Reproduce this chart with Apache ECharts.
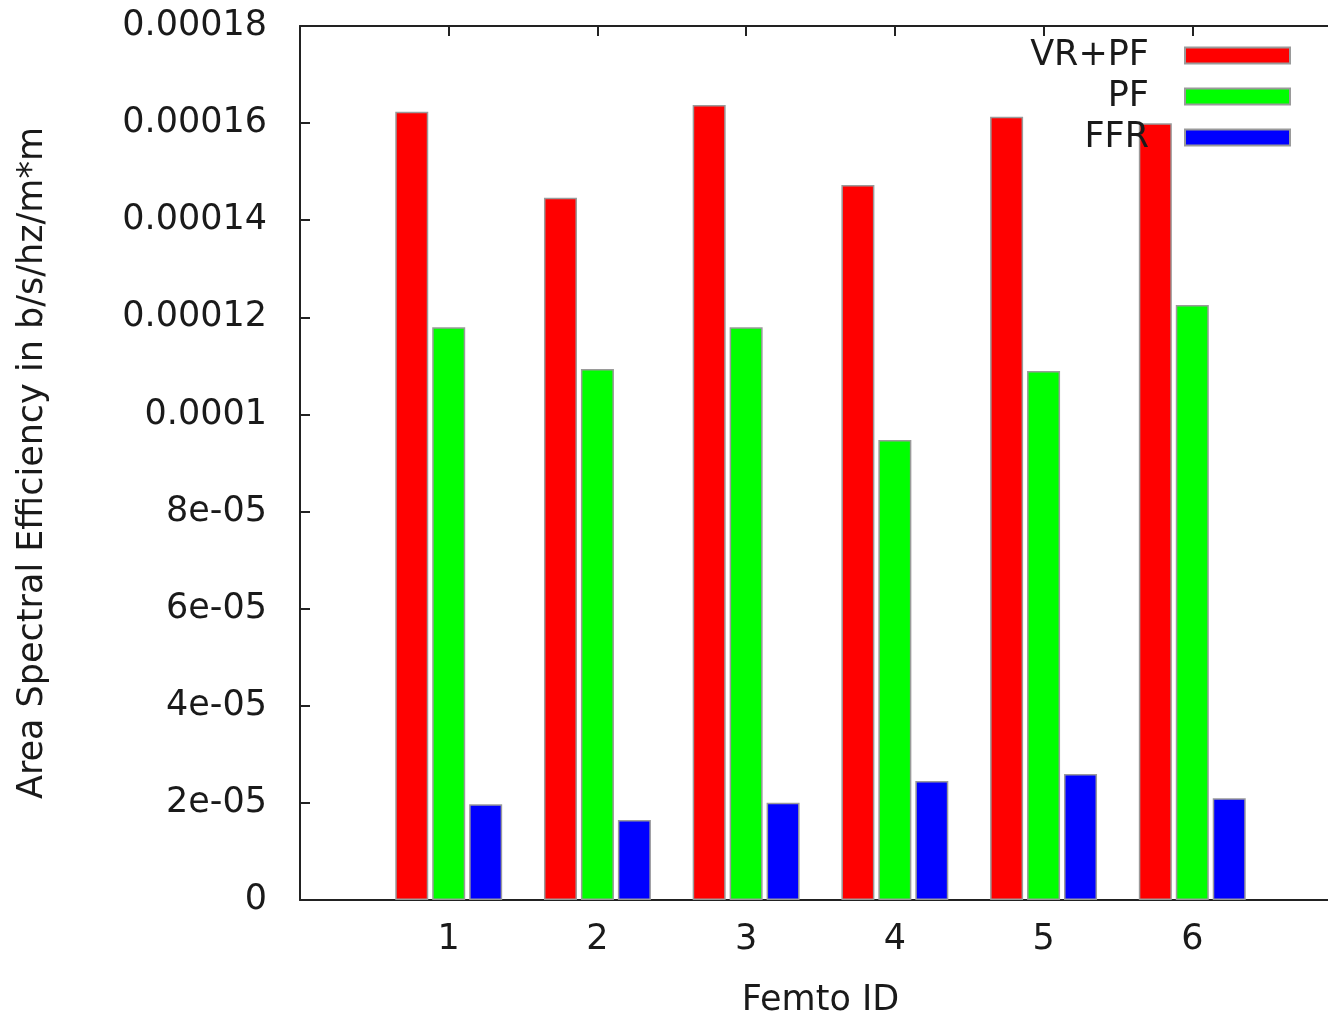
<!DOCTYPE html>
<html>
<head>
<meta charset="utf-8">
<title>Area Spectral Efficiency per Femto</title>
<script src="https://cdn.jsdelivr.net/npm/echarts@6/dist/echarts.min.js"></script>
<style>
  html, body { margin: 0; padding: 0; background: #ffffff; overflow: hidden; }
  /* the plot frame runs slightly past the right edge of the window */
  #chart { width: 1341px; height: 1017px; }
</style>
</head>
<body>
<div id="chart"></div>
<script>
// Femto cells on the x axis
var femtoIds = ['1', '2', '3', '4', '5', '6'];

// Area spectral efficiency (b/s/hz/m*m) per scheme
var vrPf = [1.6235e-4, 1.4464e-4, 1.6373e-4, 1.4725e-4, 1.6132e-4, 1.5996e-4];
var pf   = [1.1794e-4, 1.0936e-4, 1.1794e-4, 9.474e-5, 1.0895e-4, 1.2254e-4];
var ffr  = [1.971e-5, 1.648e-5, 2.004e-5, 2.451e-5, 2.595e-5, 2.094e-5];

var seriesNames = ['VR+PF', 'PF', 'FFR'];

// y tick labels written the way the plotting tool formats them
var yTickLabels = ['0', '2e-05', '4e-05', '6e-05', '8e-05', '0.0001', '0.00012', '0.00014', '0.00016', '0.00018'];
var yStep = 2e-5;

// The x range runs from 0 to 7, so pad the category list with empty slots at both ends
var xCats = [''].concat(femtoIds, ['']);
function pad(arr) { return [null].concat(arr, [null]); }

var FONT = 'DejaVu Sans';
var FS = 35;
var TXT = '#1a1a1a';
var AX = '#222222';

var chart = echarts.init(document.getElementById('chart'), null, { renderer: 'canvas' });

function barSeries(name, data, color) {
  return {
    name: name,
    type: 'bar',
    xAxisIndex: 0,
    yAxisIndex: 0,
    data: pad(data),
    barWidth: 33,
    barGap: '12%',
    itemStyle: { color: color, borderColor: '#9a9a9a', borderWidth: 1.5 },
    emphasis: { disabled: true },
    animation: false
  };
}

chart.setOption({
  backgroundColor: '#ffffff',
  animation: false,
  grid: { left: 300, right: 0, top: 26, bottom: 117, containLabel: false, outerBoundsMode: 'none' },
  legend: {
    data: seriesNames,
    orient: 'vertical',
    align: 'right',
    right: 50,
    top: 38,
    padding: 0,
    itemWidth: 105,
    itemHeight: 16,
    itemGap: 6,
    icon: 'rect',
    selectedMode: false,
    textStyle: { fontFamily: FONT, fontSize: FS, color: TXT, lineHeight: 34, padding: [0, 31, 0, 0] }
  },
  xAxis: [
    {
      type: 'category',
      data: xCats,
      boundaryGap: false,
      position: 'bottom',
      name: 'Femto ID',
      nameLocation: 'middle',
      nameGap: 83,
      nameTextStyle: { fontFamily: FONT, fontSize: FS, color: TXT },
      axisLine: { show: true, lineStyle: { color: AX, width: 2 } },
      axisTick: { show: false },
      axisLabel: { fontFamily: FONT, fontSize: FS, color: TXT, margin: 22 },
      splitLine: { show: false }
    },
    {
      type: 'category',
      data: xCats,
      boundaryGap: false,
      position: 'top',
      axisLine: { show: true, lineStyle: { color: AX, width: 2 } },
      axisTick: { show: true, inside: true, length: 10, lineStyle: { color: AX, width: 2 } },
      axisLabel: { show: false },
      splitLine: { show: false }
    }
  ],
  yAxis: [
    {
      type: 'value',
      min: 0,
      max: 0.00018,
      interval: yStep,
      position: 'left',
      name: 'Area Spectral Efficiency in b/s/hz/m*m',
      nameLocation: 'middle',
      nameGap: 250,
      nameTextStyle: { fontFamily: FONT, fontSize: FS, color: TXT },
      axisLine: { show: true, lineStyle: { color: AX, width: 2 } },
      axisTick: { show: true, inside: true, length: 10, lineStyle: { color: AX, width: 2 } },
      axisLabel: {
        fontFamily: FONT, fontSize: FS, color: TXT, margin: 33,
        formatter: function (v) { return yTickLabels[Math.round(v / yStep)]; }
      },
      splitLine: { show: false }
    }
  ],
  series: [
    barSeries(seriesNames[0], vrPf, '#ff0000'),
    barSeries(seriesNames[1], pf, '#00ff00'),
    barSeries(seriesNames[2], ffr, '#0000ff')
  ]
});
</script>
</body>
</html>
